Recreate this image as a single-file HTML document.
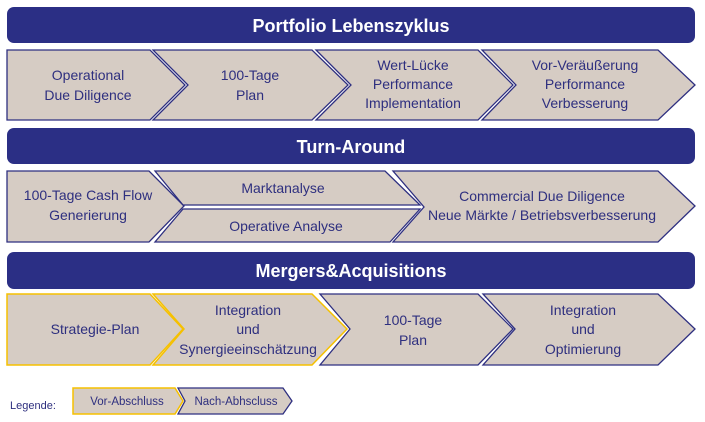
<!DOCTYPE html>
<html><head><meta charset="utf-8"><style>
html,body{margin:0;padding:0;background:#fff;}
svg{display:block;}
text{font-family:"Liberation Sans",sans-serif;}
.t{fill:#2e2f7f;font-size:14px;text-anchor:middle;}
.h{fill:#fff;font-size:18px;font-weight:bold;text-anchor:middle;}
.n{fill:#d6ccc4;stroke:#2e2f80;stroke-width:1.3;}
.y{fill:#d6ccc4;stroke:#f5c000;stroke-width:1.5;}
</style></head><body>
<svg width="705" height="422" viewBox="0 0 705 422" xmlns="http://www.w3.org/2000/svg">
<!-- Header 1 -->
<rect x="7" y="7" width="688" height="36" rx="7" fill="#2b2f85"/>
<text class="h" x="351" y="32">Portfolio Lebenszyklus</text>
<polygon class="n" points="7,50 150,50 185,85 150,120 7,120"/>
<polygon class="n" points="153,50 312,50 348,85 312,120 153,120 188,85"/>
<polygon class="n" points="316,50 478,50 513,85 478,120 316,120 351,85"/>
<polygon class="n" points="482,50 658,50 695,85 658,120 482,120 516,85"/>
<text class="t" x="88" y="80">Operational</text><text class="t" x="88" y="100">Due Diligence</text>
<text class="t" x="250" y="80">100-Tage</text><text class="t" x="250" y="100">Plan</text>
<text class="t" x="413" y="70">Wert-Lücke</text><text class="t" x="413" y="89">Performance</text><text class="t" x="413" y="108">Implementation</text>
<text class="t" x="585" y="70">Vor-Veräußerung</text><text class="t" x="585" y="89">Performance</text><text class="t" x="585" y="108">Verbesserung</text>
<!-- Header 2 -->
<rect x="7" y="128" width="688" height="36" rx="7" fill="#2b2f85"/>
<text class="h" x="351" y="153">Turn-Around</text>
<polygon class="n" points="7,171 149,171 184,206 149,242 7,242"/>
<polygon class="n" points="155,171 385,171 420,205 183,205"/>
<polygon class="n" points="183,209 420,209 390,242 155,242"/>
<polygon class="n" points="393,171 658,171 695,206 658,242 393,242 424,207"/>
<text class="t" x="88" y="200">100-Tage Cash Flow</text><text class="t" x="88" y="220">Generierung</text>
<text class="t" x="283" y="193">Marktanalyse</text>
<text class="t" x="286" y="231">Operative Analyse</text>
<text class="t" x="542" y="201">Commercial Due Diligence</text><text class="t" x="542" y="220">Neue Märkte / Betriebsverbesserung</text>
<!-- Header 3 -->
<rect x="7" y="252" width="688" height="37" rx="7" fill="#2b2f85"/>
<text class="h" x="351" y="277">Mergers&amp;Acquisitions</text>
<polygon class="n" points="320,294 478,294 513,329 478,365 320,365 350,329"/>
<polygon class="n" points="483,294 658,294 695,329 658,365 483,365 515,329"/>
<polygon class="y" points="7,294 150,294 183,329 150,365 7,365"/>
<polygon class="y" points="153,294 312,294 347,329 312,365 153,365 184,329"/>
<text class="t" x="95" y="334">Strategie-Plan</text>
<text class="t" x="248" y="315">Integration</text><text class="t" x="248" y="334">und</text><text class="t" x="248" y="354">Synergieeinschätzung</text>
<text class="t" x="413" y="325">100-Tage</text><text class="t" x="413" y="345">Plan</text>
<text class="t" x="583" y="315">Integration</text><text class="t" x="583" y="334">und</text><text class="t" x="583" y="354">Optimierung</text>
<!-- Legend -->
<text x="10" y="409" style="fill:#2e2f7f;font-size:11px;">Legende:</text>
<polygon class="n" points="178,388 283,388 292,401 283,414 178,414 185,401"/>
<polygon class="y" points="73,388 175,388 183,401 175,414 73,414"/>
<text x="127" y="405" style="fill:#2e2f7f;font-size:11.5px;text-anchor:middle;">Vor-Abschluss</text>
<text x="236" y="405" style="fill:#2e2f7f;font-size:11.5px;text-anchor:middle;">Nach-Abhscluss</text>
</svg>
</body></html>
